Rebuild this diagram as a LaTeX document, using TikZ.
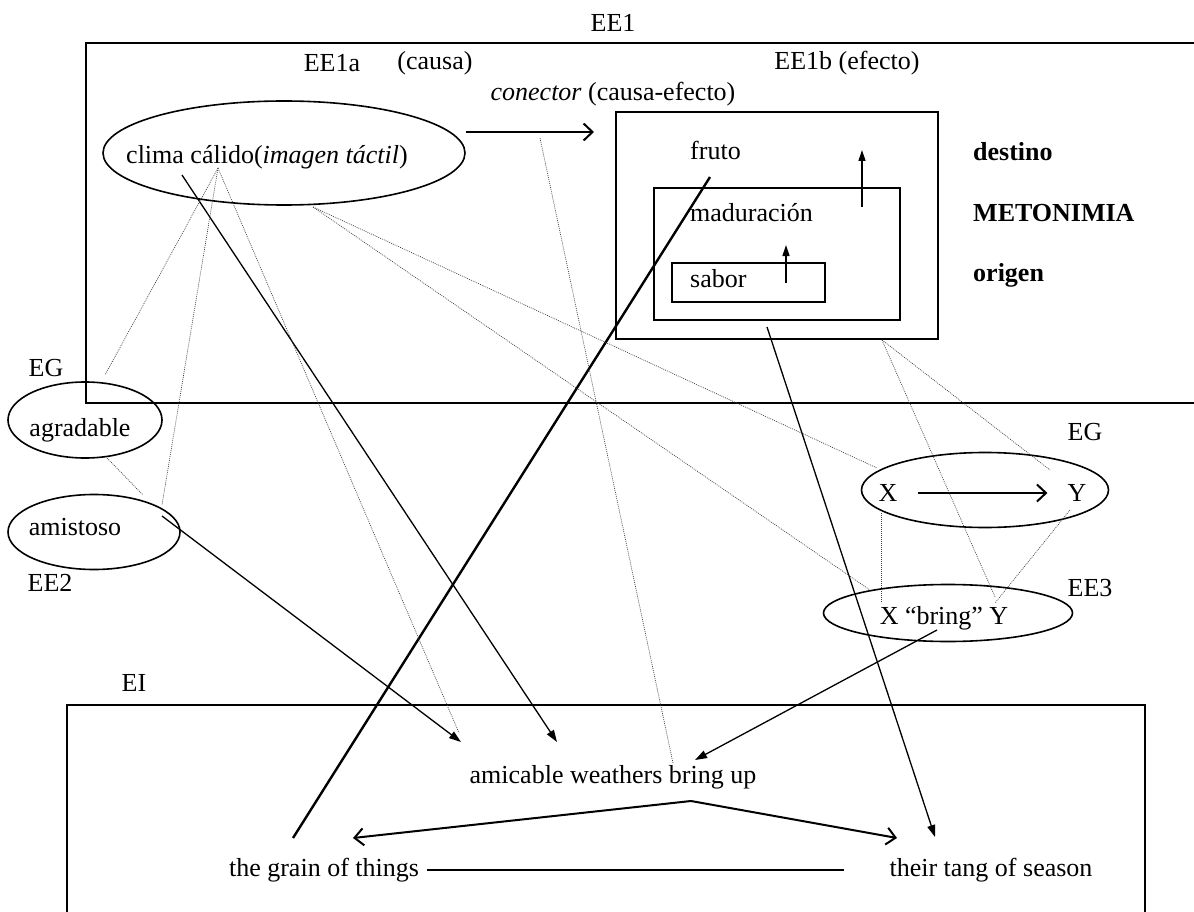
\documentclass[tikz,border=0pt]{standalone}
\usepackage{fontspec}
\setmainfont{Liberation Serif}
\usetikzlibrary{arrows.meta,positioning,shapes.geometric}
\tikzset{
  lbl/.style={font=\fontsize{26}{30}\selectfont,inner sep=0pt},
  boldlbl/.style={lbl,font=\fontsize{26}{30}\selectfont\bfseries},
  frame/.style={draw,line width=1.6pt,inner sep=0pt},
  oval/.style={draw,ellipse,line width=1.6pt,inner sep=0pt},
  link/.style={line width=1.3pt,-{Triangle[length=12pt,width=8pt]}},
  rise/.style={line width=1.4pt,-{Triangle[length=11pt,width=7pt]}},
  heavy/.style={line width=2.4pt},
  barb/.style={line width=2pt,-{Straight Barb[length=9pt,width=17pt]}},
  hint/.style={line width=0.7pt,black!75,dash pattern=on 0.9pt off 1.1pt}
}
\begin{document}
\begin{tikzpicture}[x=1pt,y=-1pt]
\clip (0,0) rectangle (1194,912);
\node[lbl] (ee1) at (613,23) {EE1};
\node[frame,minimum width=1124pt,minimum height=360pt] (ee1box) at (648,223) {};
\node[lbl] (ee1a) at (332,63) {EE1a};
\node[lbl] (causa) at (435,63) {(causa)};
\node[lbl] (ee1b) at (847,63) {EE1b (efecto)};
\node[lbl] (conector) at (613,94) {\textit{conector} (causa-efecto)};
\node[oval,minimum width=362pt,minimum height=104pt] (clima) at (284,153) {};
\node[lbl] (climatxt) at (267,157) {clima cálido(\textit{imagen táctil})};
\node[frame,minimum width=322pt,minimum height=227pt] (fruto) at (777,225.5) {};
\node[frame,minimum width=246pt,minimum height=132pt] (madur) at (777,254) {};
\node[frame,line width=1.3pt,minimum width=153pt,minimum height=39pt] (sabor) at (748.5,282.5) {};
\node[lbl,anchor=west] (frutotxt) at (690,150) {fruto};
\node[lbl,anchor=west] (madurtxt) at (690,213) {maduración};
\node[lbl,anchor=west] (sabortxt) at (690,279) {sabor};
\node[boldlbl,anchor=west] (destino) at (973,152) {destino};
\node[boldlbl,anchor=west] (meto) at (973,213) {METONIMIA};
\node[boldlbl,anchor=west] (origen) at (973,275) {origen};
\coordinate (cause) at (594,132);
\draw[barb] ([yshift=21pt]clima.east) -- (cause);
\coordinate (risebig) at (862,207);
\coordinate (risebigtop) at (862,150);
\coordinate (risesmall) at (786,283);
\coordinate (risesmalltop) at (786,245);
\draw[rise] (risebig) -- (risebigtop);
\draw[rise] (risesmall) -- (risesmalltop);

\node[lbl] (eg1) at (46,368) {EG};
\node[oval,minimum width=154pt,minimum height=76pt] (agrad) at (85,420) {};
\node[lbl] (agradtxt) at (80,430) {agradable};
\node[oval,minimum width=172pt,minimum height=75pt] (amist) at (94,532) {};
\node[lbl] (amisttxt) at (75,527) {amistoso};
\node[lbl] (ee2) at (50,583) {EE2};

\node[lbl] (eg2) at (1085,432) {EG};
\node[oval,minimum width=247pt,minimum height=75pt] (xy) at (985,490) {};
\node[lbl] (xnode) at (888,493) {X};
\node[lbl] (ynode) at (1077,493) {Y};
\draw[barb] ([xshift=20pt]xnode.east) -- ([xshift=-20pt]ynode.west);
\node[lbl] (ee3) at (1090,588) {EE3};
\node[oval,minimum width=249pt,minimum height=57pt] (bring) at (948,613) {};
\node[lbl] (bringtxt) at (944,618) {X “bring” Y};

\node[lbl] (ei) at (134,683) {EI};
\node[frame,minimum width=1078pt,minimum height=225pt] (eibox) at (606,817.5) {};
\node[lbl] (amicable) at (613,777) {amicable weathers bring up};
\node[lbl] (grain) at (324,870) {the grain of things};
\node[lbl] (tang) at (991,870) {their tang of season};

\coordinate (peak) at (691,801);
\coordinate (graintip) at (353,838);
\coordinate (tangtip) at (897,838);
\draw[barb] (peak) -- (graintip);
\draw[barb] (peak) -- (tangtip);
\draw[heavy] ([xshift=8pt]grain.east) -- ([xshift=-45pt]tang.west);

\coordinate (frutofoot) at (710,177);
\coordinate (grainfoot) at (293,838);
\draw[heavy] (frutofoot) -- (grainfoot);
\coordinate (climafoot) at (182,175);
\coordinate (climahit) at (557,742);
\draw[link] (climafoot) -- (climahit);
\coordinate (amistfoot) at (162,516);
\coordinate (amisthit) at (461,742);
\draw[link] (amistfoot) -- (amisthit);
\coordinate (bringfoot) at (937,630);
\coordinate (bringhit) at (695,760);
\draw[link] (bringfoot) -- (bringhit);
\coordinate (madurfoot) at (767,327);
\coordinate (madurhit) at (935,837);
\draw[link] (madurfoot) -- (madurhit);

\coordinate (fan) at (218,168);
\coordinate (egend) at (105,375);
\coordinate (amtop) at (162,505);
\coordinate (amicend) at (459,733);
\foreach \t in {egend,amtop,amicend} \draw[hint] (fan) -- (\t);
\coordinate (climarim) at (313,207);
\coordinate (xend) at (877,468);
\coordinate (bxend) at (870,590);
\foreach \t in {xend,bxend} \draw[hint] (climarim) -- (\t);
\coordinate (frutocorner) at (882,340);
\coordinate (byend) at (995,597);
\coordinate (yend) at (1050,470);
\foreach \t in {byend,yend} \draw[hint] (frutocorner) -- (\t);
\coordinate (xlow) at (881,513);
\coordinate (bxtop) at (881,603);
\draw[hint] (xlow) -- (bxtop);
\coordinate (ylow) at (1070,510);
\coordinate (bytop) at (995,603);
\draw[hint] (ylow) -- (bytop);
\coordinate (agradlow) at (107,458);
\coordinate (amistop) at (143,495);
\draw[hint] (agradlow) -- (amistop);
\coordinate (conectorfoot) at (540,138);
\coordinate (amicmid) at (673,763);
\draw[hint] (conectorfoot) -- (amicmid);
\end{tikzpicture}
\end{document}
